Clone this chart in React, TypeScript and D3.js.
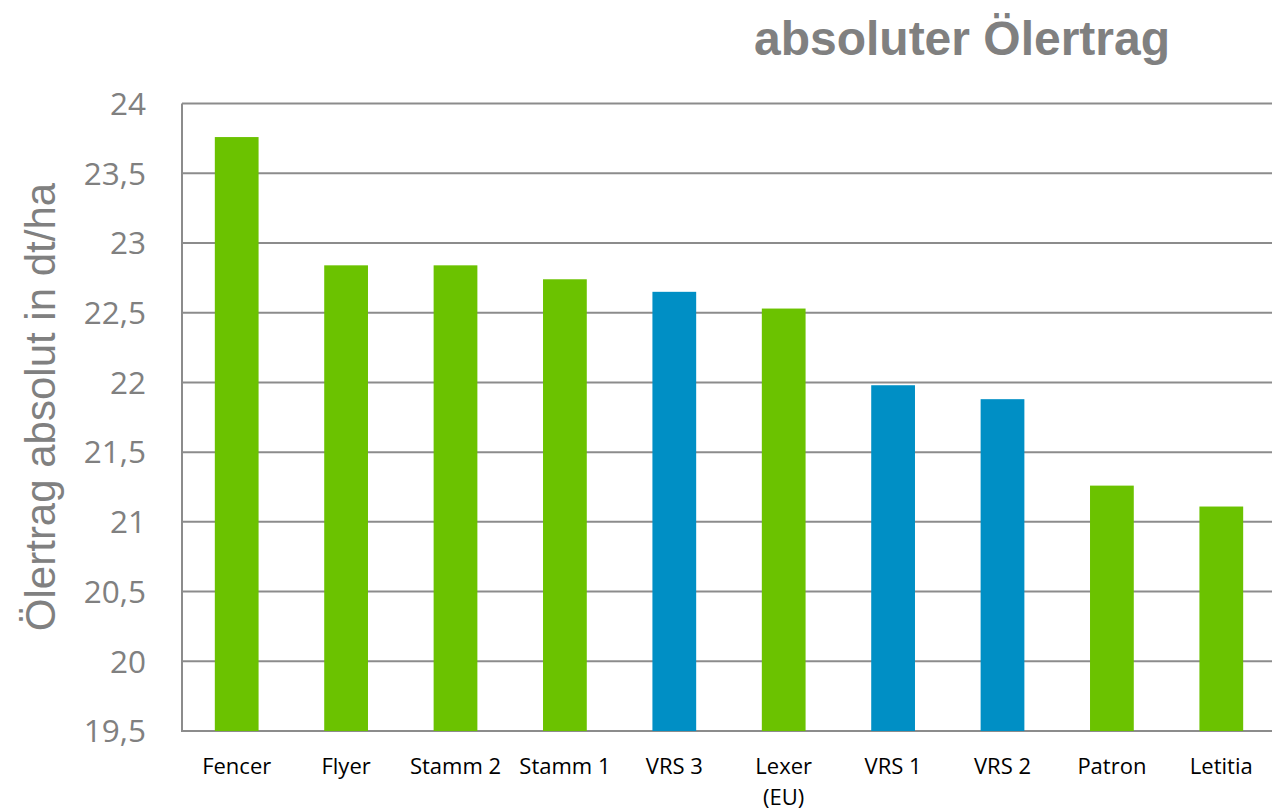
import React from "react";
import * as d3 from "d3";

const categories = ["Fencer", "Flyer", "Stamm 2", "Stamm 1", "VRS 3", "Lexer\n(EU)", "VRS 1", "VRS 2", "Patron", "Letitia"];
const values = [23.76, 22.84, 22.84, 22.74, 22.65, 22.53, 21.98, 21.88, 21.26, 21.11];
const groups = ["g", "g", "g", "g", "b", "g", "b", "b", "g", "g"];
const yTicks = [19.5, 20, 20.5, 21, 21.5, 22, 22.5, 23, 23.5, 24];

const W = 1272, H = 812;
const left = 182, right = 1276, top = 103.6, bottom = 731;

export default function App() {
  const x = d3.scaleBand<string>().domain(categories).range([left, right]).paddingInner(0.6).paddingOuter(0.3);
  const y = d3.scaleLinear().domain([19.5, 24]).range([bottom, top]);
  const colors: Record<string, string> = { g: "#6BC200", b: "#008FC5" };
  const fmt = (v: number) => String(v).replace(".", ",");
  return (
    <svg width={W} height={H} style={{ position: "absolute", left: 0, top: 0, background: "#fff" }}>
      <text x={962} y={55} textAnchor="middle" fontFamily="Liberation Sans, Arial, sans-serif" fontWeight="bold" fontSize={48} fill="#808080">absoluter Ölertrag</text>
      <text transform={`translate(55,407) rotate(-90)`} textAnchor="middle" fontFamily="Liberation Sans, Arial, sans-serif" fontSize={42} fill="#808080">Ölertrag absolut in dt/ha</text>
      {yTicks.map(t => (
        <g key={t}>
          <line x1={left} x2={W} y1={y(t)} y2={y(t)} stroke="#8C8C8C" strokeWidth={2} />
          <text x={146} y={y(t)} dy="0.36em" textAnchor="end" fontFamily="Open Sans, sans-serif" fontSize={31.5} fill="#808080">{fmt(t)}</text>
        </g>
      ))}
      {categories.map((c, i) => (
        <rect key={c} x={x(c)} y={y(values[i])} width={x.bandwidth()} height={y(19.5) - y(values[i])} fill={colors[groups[i]]} />
      ))}
      <line x1={left} x2={left} y1={top} y2={bottom + 1} stroke="#8C8C8C" strokeWidth={2} />
      {categories.map(c => {
        const lines = c.split("\n");
        const cx = (x(c) as number) + x.bandwidth() / 2;
        return (
          <text key={c} x={cx} y={774} textAnchor="middle" fontFamily="Open Sans, sans-serif" fontSize={22} fill="#000">
            {lines.map((l, j) => <tspan key={j} x={cx} dy={j === 0 ? 0 : 31}>{l}</tspan>)}
          </text>
        );
      })}
    </svg>
  );
}
